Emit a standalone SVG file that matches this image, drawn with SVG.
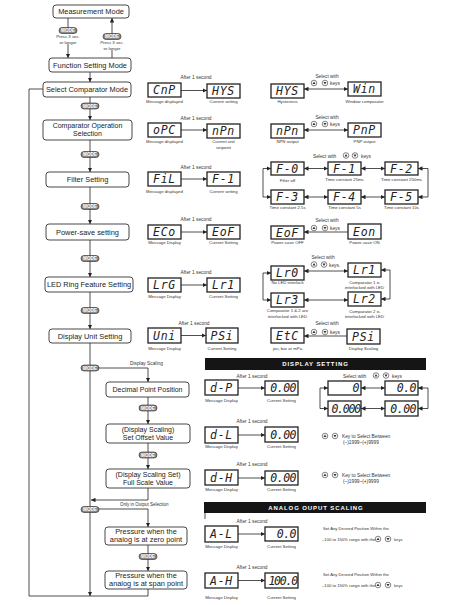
<svg xmlns="http://www.w3.org/2000/svg" width="466" height="605" viewBox="0 0 466 605">
<style>
.nd{fill:#fff;stroke:#333;stroke-width:0.9}
.nt{font-family:"Liberation Sans",Arial,sans-serif;font-size:7.4px;fill:#222;text-anchor:middle}
.nt2{font-family:"Liberation Sans",Arial,sans-serif;font-size:7px;fill:#222;text-anchor:middle}
.lcd{fill:#fff;stroke:#222;stroke-width:1.3}
.seg{font-family:"DejaVu Sans Mono",monospace;font-size:11.5px;font-style:italic;fill:#222;text-anchor:middle;letter-spacing:0.8px}
.segr{font-family:"DejaVu Sans Mono",monospace;font-size:11.5px;font-style:italic;fill:#222;text-anchor:end;letter-spacing:-0.5px}
.sm{font-family:"Liberation Sans",Arial,sans-serif;font-size:4.3px;fill:#333;text-anchor:middle}
.af{font-family:"Liberation Sans",Arial,sans-serif;font-size:4.8px;fill:#333;text-anchor:middle}
.lt{font-family:"Liberation Sans",Arial,sans-serif;font-size:4.8px;fill:#333}
.ln{fill:none;stroke:#222;stroke-width:0.8}
.ban{fill:#151515}
.bt{font-family:"Liberation Sans",Arial,sans-serif;font-size:6px;font-weight:bold;fill:#fff;text-anchor:middle;letter-spacing:0.9px}
.md{fill:#8a8a8a;stroke:#222;stroke-width:0.6}
.mt{font-family:"Liberation Sans",Arial,sans-serif;font-size:4.6px;font-weight:bold;fill:#fff;text-anchor:middle}
</style>
<defs>
<marker id="ah" viewBox="0 0 6 6" refX="6" refY="3" markerWidth="4.5" markerHeight="4.5" markerUnits="userSpaceOnUse" orient="auto-start-reverse"><path d="M0,0L6,3L0,6z" fill="#222"/></marker>
<g id="ku"><circle r="2.8" fill="#fff" stroke="#333" stroke-width="0.6"/><path d="M-1.5,1L0,-1.4L1.5,1z" fill="#333"/></g>
<g id="kd"><circle r="2.8" fill="#fff" stroke="#333" stroke-width="0.6"/><path d="M-1.5,-1L0,1.4L1.5,-1z" fill="#333"/></g>
<g id="mode"><rect class="md" x="-9" y="-3" width="18" height="6" rx="3"/><text class="mt" y="1.6">MODE</text></g>
</defs>
<rect width="466" height="605" fill="#fff"/>

<g id="connectors">
<path class="ln" d="M68,18V28M68,44V58" marker-end="url(#ah)"/>
<path class="ln" d="M112,58V50"/>
<path class="ln" d="M112,34V18" marker-end="url(#ah)"/>
<path class="ln" d="M90,72V82" marker-end="url(#ah)"/>
<path class="ln" d="M90,97V120" marker-end="url(#ah)"/>
<path class="ln" d="M90,140V172" marker-end="url(#ah)"/>
<path class="ln" d="M90,187V224" marker-end="url(#ah)"/>
<path class="ln" d="M90,240V277" marker-end="url(#ah)"/>
<path class="ln" d="M90,292V329" marker-end="url(#ah)"/>
<path class="ln" d="M90,343V596" marker-end="url(#ah)"/>
<path class="ln" d="M90,368H148V382" marker-end="url(#ah)"/>
<path class="ln" d="M148,397V424" marker-end="url(#ah)"/>
<path class="ln" d="M148,443V469" marker-end="url(#ah)"/>
<path class="ln" d="M148,488V500H91" marker-end="url(#ah)"/>
<path class="ln" d="M90,509H148V527" marker-end="url(#ah)"/>
<path class="ln" d="M148,545V571" marker-end="url(#ah)"/>
<path class="ln" d="M148,589V596H29V89H43"/>
<path class="ln" d="M181,90.5H207" marker-end="url(#ah)"/>
<path class="ln" d="M304,89H348" marker-start="url(#ah)" marker-end="url(#ah)"/>
<path class="ln" d="M181,130H207" marker-end="url(#ah)"/>
<path class="ln" d="M304,130H348" marker-start="url(#ah)" marker-end="url(#ah)"/>
<path class="ln" d="M181,179H207" marker-end="url(#ah)"/>
<path class="ln" d="M304,168.5H328" marker-start="url(#ah)" marker-end="url(#ah)"/>
<path class="ln" d="M361,168.5H385" marker-start="url(#ah)" marker-end="url(#ah)"/>
<path class="ln" d="M304,197H328" marker-start="url(#ah)" marker-end="url(#ah)"/>
<path class="ln" d="M361,197H385" marker-start="url(#ah)" marker-end="url(#ah)"/>
<path class="ln" d="M271,168.5H263V197H271" marker-start="url(#ah)" marker-end="url(#ah)"/>
<path class="ln" d="M418,168.5H428V197H418" marker-start="url(#ah)" marker-end="url(#ah)"/>
<path class="ln" d="M181,232H207" marker-end="url(#ah)"/>
<path class="ln" d="M348,232H304" marker-end="url(#ah)"/>
<path class="ln" d="M181,285H207" marker-end="url(#ah)"/>
<path class="ln" d="M304,271H348" marker-start="url(#ah)" marker-end="url(#ah)"/>
<path class="ln" d="M304,300H348" marker-start="url(#ah)" marker-end="url(#ah)"/>
<path class="ln" d="M271,273H263V300H271" marker-start="url(#ah)" marker-end="url(#ah)"/>
<path class="ln" d="M381,270H390V299H381" marker-start="url(#ah)" marker-end="url(#ah)"/>
<path class="ln" d="M181,335.5H206" marker-end="url(#ah)"/>
<path class="ln" d="M347,336H304" marker-end="url(#ah)"/>
<path class="ln" d="M238,388H265" marker-end="url(#ah)"/>
<path class="ln" d="M361,388H385" marker-start="url(#ah)" marker-end="url(#ah)"/>
<path class="ln" d="M361,408.5H385" marker-start="url(#ah)" marker-end="url(#ah)"/>
<path class="ln" d="M328,388H320V408.5H328" marker-start="url(#ah)" marker-end="url(#ah)"/>
<path class="ln" d="M418,388H428V408.5H418" marker-start="url(#ah)" marker-end="url(#ah)"/>
<path class="ln" d="M238,435H265" marker-end="url(#ah)"/>
<path class="ln" d="M238,478H265" marker-end="url(#ah)"/>
<path class="ln" d="M238,534H265" marker-end="url(#ah)"/>
<path class="ln" d="M238,580.5H265" marker-end="url(#ah)"/>
<path class="ln" d="M205,513V519"/>
</g>

<g id="mode-badges">
<use href="#mode" x="68" y="30.5"/>
<use href="#mode" x="112" y="36.5"/>
<use href="#mode" x="90" y="106"/>
<use href="#mode" x="90" y="154.5"/>
<use href="#mode" x="90" y="206.5"/>
<use href="#mode" x="90" y="258.5"/>
<use href="#mode" x="90" y="310.5"/>
<use href="#mode" x="90" y="368"/>
<use href="#mode" x="148" y="408"/>
<use href="#mode" x="148" y="455"/>
<use href="#mode" x="90" y="509.5"/>
<use href="#mode" x="148" y="556.5"/>
</g>

<g id="edge-labels">
<text class="sm" x="68" y="38">Press 3 sec.</text>
<text class="sm" x="68" y="43.5">or longer</text>
<text class="sm" x="112" y="44">Press 3 sec.</text>
<text class="sm" x="112" y="49.5">or longer</text>
<text class="lt" x="130" y="364.5">Display Scaling</text>
<text class="lt" x="120" y="505.5" style="font-size:4.5px">Only in Output Selection</text>
</g>

<g id="n-measurement"><rect class="nd" x="53" y="5" width="76" height="13" rx="3"/><text class="nt" x="91" y="14.3">Measurement Mode</text></g>
<g id="n-function"><rect class="nd" x="49" y="58" width="82" height="14" rx="3"/><text class="nt" x="90" y="67.8">Function Setting Mode</text></g>
<g id="n-selectcomp"><rect class="nd" x="43" y="82" width="88" height="15" rx="3"/><text class="nt" x="87" y="92.3">Select Comparator Mode</text></g>
<g id="n-compop"><rect class="nd" x="43" y="120" width="89" height="20" rx="3"/><text class="nt2" x="87.5" y="128.3">Comparator Operation</text><text class="nt2" x="87.5" y="136">Selection</text></g>
<g id="n-filter"><rect class="nd" x="46" y="172" width="83" height="15" rx="3"/><text class="nt" x="87.5" y="182.3">Filter Setting</text></g>
<g id="n-powersave"><rect class="nd" x="46" y="224" width="83" height="16" rx="3"/><text class="nt" x="87.5" y="234.8">Power-save setting</text></g>
<g id="n-ledring"><rect class="nd" x="45" y="277" width="88" height="15" rx="3"/><text class="nt" x="89" y="287.3">LED Ring Feature Setting</text></g>
<g id="n-dispunit"><rect class="nd" x="49" y="329" width="82" height="14" rx="3"/><text class="nt" x="90" y="338.8">Display Unit Setting</text></g>
<g id="n-decimal"><rect class="nd" x="106" y="382" width="83" height="15" rx="3"/><text class="nt2" x="147.5" y="392.3">Decimal Point Position</text></g>
<g id="n-offset"><rect class="nd" x="106" y="424" width="84" height="19" rx="3"/><text class="nt2" x="148" y="432.3">(Display Scaling)</text><text class="nt2" x="148" y="440.3">Set Offset Value</text></g>
<g id="n-fullscale"><rect class="nd" x="106" y="469" width="84" height="19" rx="3"/><text class="nt2" x="148" y="477.3">(Display Scaling Set)</text><text class="nt2" x="148" y="485.3">Full Scale Value</text></g>
<g id="n-zero"><rect class="nd" x="105" y="527" width="82" height="18" rx="3"/><text class="nt" x="146" y="534.3">Pressure when the</text><text class="nt" x="146" y="542.3">analog is at zero point</text></g>
<g id="n-span"><rect class="nd" x="105" y="571" width="82" height="18" rx="3"/><text class="nt" x="146" y="578.3">Pressure when the</text><text class="nt" x="146" y="586.3">analog is at span point</text></g>

<g id="d-cnp"><rect class="lcd" x="148" y="83" width="33" height="14"/><text class="seg" x="164.5" y="94.3">CnP</text><text class="sm" x="164.5" y="102.5">Message displayed</text></g>
<g id="d-hys"><rect class="lcd" x="207" y="84" width="33" height="14"/><text class="seg" x="223.5" y="95.3">HYS</text><text class="sm" x="223.5" y="102.5">Current setting</text></g>
<text class="af" x="196" y="78.5">After 1 second</text>
<g id="d-hys2"><rect class="lcd" x="271" y="84" width="33" height="14"/><text class="seg" x="287.5" y="95.3">HYS</text><text class="sm" x="287.5" y="102.5">Hysteresis</text></g>
<g id="d-win"><rect class="lcd" x="348" y="82" width="33" height="14"/><text class="seg" x="364.5" y="93.3">Win</text><text class="sm" x="364.5" y="102.5">Window comparator</text></g>
<text class="af" x="327" y="77.5">Select with</text>
<use href="#ku" x="314" y="83"/><use href="#kd" x="325" y="83"/><text class="lt" x="330" y="85">keys</text>

<g id="d-opc"><rect class="lcd" x="148" y="123" width="33" height="14"/><text class="seg" x="164.5" y="134.3">oPC</text><text class="sm" x="164.5" y="143">Message displayed</text></g>
<g id="d-npn"><rect class="lcd" x="207" y="124" width="33" height="14"/><text class="seg" x="223.5" y="135.3">nPn</text><text class="sm" x="223.5" y="143">Current unit</text><text class="sm" x="223.5" y="148.5">setpoint</text></g>
<text class="af" x="196" y="120">After 1 second</text>
<g id="d-npn2"><rect class="lcd" x="271" y="124" width="33" height="14"/><text class="seg" x="287.5" y="135.3">nPn</text><text class="sm" x="287.5" y="143">NPN output</text></g>
<g id="d-pnp"><rect class="lcd" x="348" y="123" width="33" height="14"/><text class="seg" x="364.5" y="134.3">PnP</text><text class="sm" x="364.5" y="143">PNP output</text></g>
<text class="af" x="327" y="118.5">Select with</text>
<use href="#ku" x="314" y="124"/><use href="#kd" x="325" y="124"/><text class="lt" x="330" y="126">keys</text>

<g id="d-fil"><rect class="lcd" x="148" y="172" width="33" height="14"/><text class="seg" x="164.5" y="183.3">FiL</text><text class="sm" x="164.5" y="192.5">Message displayed</text></g>
<g id="d-f1"><rect class="lcd" x="207" y="172" width="33" height="14"/><text class="seg" x="223.5" y="183.3">F-1</text><text class="sm" x="223.5" y="192.5">Current setting</text></g>
<text class="af" x="196" y="168.5">After 1 second</text>
<text class="lt" x="313" y="157.5">Select with</text>
<use href="#ku" x="346" y="155.5"/><use href="#kd" x="355" y="155.5"/><text class="lt" x="361" y="157.5">keys</text>
<g id="d-f0"><rect class="lcd" x="271" y="162" width="33" height="13"/><text class="seg" x="287.5" y="172.8">F-0</text><text class="sm" x="287.5" y="182">Filter off</text></g>
<g id="d-f1b"><rect class="lcd" x="328" y="162" width="33" height="13"/><text class="seg" x="344.5" y="172.8">F-1</text><text class="sm" x="344.5" y="180.5">Time constant 25ms</text></g>
<g id="d-f2"><rect class="lcd" x="385" y="162" width="33" height="13"/><text class="seg" x="401.5" y="172.8">F-2</text><text class="sm" x="401.5" y="180.5">Time constant 250ms</text></g>
<g id="d-f3"><rect class="lcd" x="271" y="190" width="33" height="14"/><text class="seg" x="287.5" y="201.3">F-3</text><text class="sm" x="287.5" y="209">Time constant 2.5s</text></g>
<g id="d-f4"><rect class="lcd" x="328" y="190" width="33" height="14"/><text class="seg" x="344.5" y="201.3">F-4</text><text class="sm" x="344.5" y="209">Time constant 5s</text></g>
<g id="d-f5"><rect class="lcd" x="385" y="190" width="33" height="14"/><text class="seg" x="401.5" y="201.3">F-5</text><text class="sm" x="401.5" y="209">Time constant 10s</text></g>

<g id="d-eco"><rect class="lcd" x="148" y="225" width="33" height="14"/><text class="seg" x="164.5" y="236.3">ECo</text><text class="sm" x="164.5" y="244">Message Display</text></g>
<g id="d-eof"><rect class="lcd" x="207" y="225" width="33" height="14"/><text class="seg" x="223.5" y="236.3">EoF</text><text class="sm" x="223.5" y="244">Current Setting</text></g>
<text class="af" x="196" y="220.5">After 1 second</text>
<g id="d-eof2"><rect class="lcd" x="271" y="226" width="33" height="13"/><text class="seg" x="287.5" y="236.8">EoF</text><text class="sm" x="287.5" y="244">Power-save OFF</text></g>
<g id="d-eon"><rect class="lcd" x="348" y="224" width="33" height="15"/><text class="seg" x="364.5" y="235.8">Eon</text><text class="sm" x="364.5" y="244">Power-save ON</text></g>
<text class="af" x="327" y="221.5">Select with</text>
<use href="#ku" x="314" y="228"/><use href="#kd" x="325" y="228"/><text class="lt" x="330" y="230">keys</text>

<g id="d-lrg"><rect class="lcd" x="148" y="278" width="33" height="14"/><text class="seg" x="164.5" y="289.3">LrG</text><text class="sm" x="164.5" y="297.5">Message Display</text></g>
<g id="d-lr1"><rect class="lcd" x="207" y="278" width="33" height="14"/><text class="seg" x="223.5" y="289.3">Lr1</text><text class="sm" x="223.5" y="297.5">Current Setting</text></g>
<text class="af" x="196" y="274">After 1 second</text>
<g id="d-lr0"><rect class="lcd" x="271" y="266" width="33" height="14"/><text class="seg" x="287.5" y="277.3">Lr0</text><text class="sm" x="287.5" y="284">No LED interlock</text></g>
<g id="d-lr1b"><rect class="lcd" x="348" y="263" width="33" height="14"/><text class="seg" x="364.5" y="274.3">Lr1</text><text class="sm" x="364.5" y="283.5">Comparator 1 is</text><text class="sm" x="364.5" y="288.5">interlocked with LED</text></g>
<g id="d-lr3"><rect class="lcd" x="271" y="293" width="33" height="14"/><text class="seg" x="287.5" y="304.3">Lr3</text><text class="sm" x="287.5" y="312">Comparator 1 &amp; 2 are</text><text class="sm" x="287.5" y="317.5">interlocked with LED</text></g>
<g id="d-lr2"><rect class="lcd" x="348" y="292" width="33" height="14"/><text class="seg" x="364.5" y="303.3">Lr2</text><text class="sm" x="364.5" y="312.5">Comparator 2 is</text><text class="sm" x="364.5" y="318">interlocked with LED</text></g>
<text class="af" x="323" y="258.5">Select with</text>
<use href="#ku" x="314" y="264.5"/><use href="#kd" x="324" y="264.5"/><text class="lt" x="329" y="266.5">keys.</text>

<g id="d-uni"><rect class="lcd" x="148" y="328" width="33" height="15"/><text class="seg" x="164.5" y="339.8">Uni</text><text class="sm" x="164.5" y="349.5">Message Display</text></g>
<g id="d-psi"><rect class="lcd" x="206" y="328" width="32" height="15"/><text class="seg" x="222" y="339.8">PSi</text><text class="sm" x="222" y="349.5">Current Setting</text></g>
<text class="af" x="194" y="324.5">After 1 second</text>
<g id="d-etc"><rect class="lcd" x="271" y="328" width="33" height="15"/><text class="seg" x="287.5" y="339.8">EtC</text><text class="sm" x="287.5" y="349.5">psi, bar or mPa</text></g>
<g id="d-psi2"><rect class="lcd" x="347" y="329" width="33" height="15"/><text class="seg" x="363.5" y="340.8">PSi</text><text class="sm" x="363.5" y="349.5">Display Scaling</text></g>
<text class="af" x="327" y="324.5">Select with</text>
<use href="#ku" x="314" y="332"/><use href="#kd" x="325" y="332"/><text class="lt" x="330" y="334">keys</text>

<g id="banner-display"><rect class="ban" x="205" y="358" width="221" height="12"/><text class="bt" x="315.5" y="366.3">DISPLAY SETTING</text></g>

<g id="d-dp"><rect class="lcd" x="205" y="380" width="33" height="15"/><text class="seg" x="221.5" y="391.8">d-P</text><text class="sm" x="221.5" y="402">Message Display</text></g>
<g id="d-dp-cur"><rect class="lcd" x="265" y="381" width="33" height="14"/><text class="segr" x="296" y="392.3">0.00</text><text class="sm" x="281.5" y="402">Current Setting</text></g>
<text class="af" x="252" y="378">After 1 second</text>
<text class="lt" x="343" y="377.5">Select with</text>
<use href="#ku" x="376" y="375.5"/><use href="#kd" x="386" y="375.5"/><text class="lt" x="392" y="377.5">keys</text>
<g id="d-g0"><rect class="lcd" x="328" y="381" width="33" height="14"/><text class="segr" x="359" y="392.3">0</text></g>
<g id="d-g00"><rect class="lcd" x="385" y="381" width="33" height="14"/><text class="segr" x="416" y="392.3">0.0</text></g>
<g id="d-g0000"><rect class="lcd" x="328" y="401" width="33" height="15"/><text class="segr" x="360" y="412.8" style="letter-spacing:-1.2px">0.000</text></g>
<g id="d-g000"><rect class="lcd" x="385" y="401" width="33" height="15"/><text class="segr" x="416" y="412.8">0.00</text></g>

<g id="d-dl"><rect class="lcd" x="205" y="427" width="33" height="16"/><text class="seg" x="221.5" y="439.3">d-L</text><text class="sm" x="221.5" y="447.5">Message Display</text></g>
<g id="d-dl-cur"><rect class="lcd" x="265" y="427" width="33" height="15"/><text class="segr" x="296" y="438.8">0.00</text><text class="sm" x="281.5" y="447.5">Current Setting</text></g>
<text class="af" x="252" y="422.5">After 1 second</text>
<use href="#ku" x="325" y="436"/><use href="#kd" x="335" y="436"/>
<text class="lt" x="342" y="438">Key to Select Between</text>
<text class="lt" x="343" y="443.5">(–)1999–(+)9999</text>

<g id="d-dh"><rect class="lcd" x="205" y="470" width="33" height="15"/><text class="seg" x="221.5" y="481.8">d-H</text><text class="sm" x="221.5" y="491">Message Display</text></g>
<g id="d-dh-cur"><rect class="lcd" x="265" y="471" width="33" height="14"/><text class="segr" x="296" y="482.3">0.00</text><text class="sm" x="281.5" y="491">Current Setting</text></g>
<text class="af" x="252" y="465.5">After 1 second</text>
<use href="#ku" x="325" y="475"/><use href="#kd" x="335" y="475"/>
<text class="lt" x="342" y="477">Key to Select Between</text>
<text class="lt" x="343" y="482.5">(–)1999–(+)9999</text>

<g id="banner-analog"><rect class="ban" x="204" y="502" width="222" height="11"/><text class="bt" x="316" y="509.8">ANALOG OUPUT SCALING</text></g>

<g id="d-al"><rect class="lcd" x="205" y="526" width="33" height="16"/><text class="seg" x="221.5" y="538.3">A-L</text><text class="sm" x="221.5" y="548">Message Display</text></g>
<g id="d-al-cur"><rect class="lcd" x="265" y="527" width="33" height="14"/><text class="segr" x="296" y="538.3">0.0</text><text class="sm" x="281.5" y="548">Current Setting</text></g>
<text class="af" x="252" y="522.5">After 1 second</text>
<text class="lt" x="323" y="530" style="font-size:4.2px">Set Any Desired Position Within the</text>
<text class="lt" x="322" y="541" style="font-size:4.2px">–100 to 150% range with the</text>
<use href="#ku" x="378" y="539"/><use href="#kd" x="388" y="539"/><text class="lt" x="394" y="541" style="font-size:4.2px">keys</text>

<g id="d-ah"><rect class="lcd" x="205" y="573" width="33" height="15"/><text class="seg" x="221.5" y="584.8">A-H</text><text class="sm" x="221.5" y="599">Message Display</text></g>
<g id="d-ah-cur"><rect class="lcd" x="265" y="573" width="33" height="15"/><text class="segr" x="297" y="584.8" style="letter-spacing:-1.2px">100.0</text><text class="sm" x="281.5" y="599">Current Setting</text></g>
<text class="af" x="252" y="569">After 1 second</text>
<text class="lt" x="323" y="576" style="font-size:4.2px">Set Any Desired Position Within the</text>
<text class="lt" x="322" y="587" style="font-size:4.2px">–100 to 150% range with the</text>
<use href="#ku" x="378" y="585"/><use href="#kd" x="388" y="585"/><text class="lt" x="394" y="587" style="font-size:4.2px">keys</text>
</svg>
